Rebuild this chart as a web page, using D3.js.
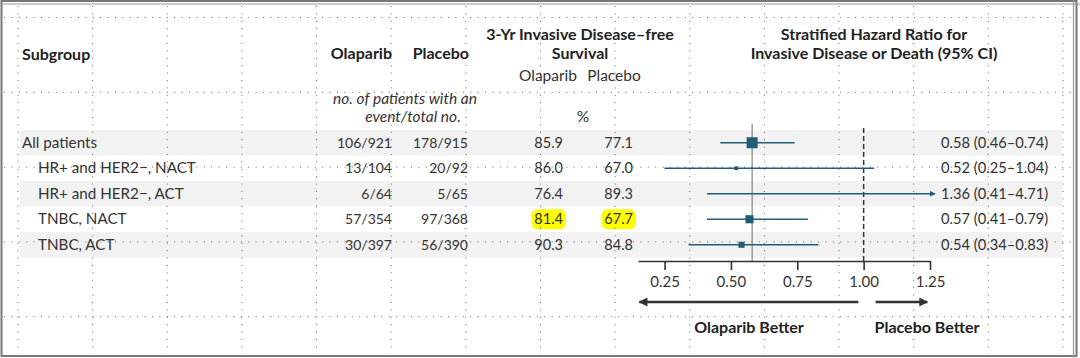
<!DOCTYPE html>
<html>
<head>
<meta charset="utf-8">
<script src="https://cdn.jsdelivr.net/npm/d3@7"></script>
<style>
  html, body { margin: 0; padding: 0; background: #fff; }
  svg { display: block; font-family: Lato, "Noto Sans", sans-serif; }
</style>
</head>
<body>
<script>
const W = 1080, H = 358;

// data
const subgroups = ['All patients', 'HR+ and HER2\u2212, NACT', 'HR+ and HER2\u2212, ACT', 'TNBC, NACT', 'TNBC, ACT'];
const indent = [0, 1, 1, 1, 1];
const olaparibEvents = ['106/921', '13/104', '6/64', '57/354', '30/397'];
const placeboEvents = ['178/915', '20/92', '5/65', '97/368', '56/390'];
const olaparibDfs = [85.9, 86.0, 76.4, 81.4, 90.3];
const placeboDfs = [77.1, 67.0, 89.3, 67.7, 84.8];
const hr = [0.58, 0.52, 1.36, 0.57, 0.54];
const hrLow = [0.46, 0.25, 0.41, 0.41, 0.34];
const hrHigh = [0.74, 1.04, 4.71, 0.79, 0.83];
const highlighted = [false, false, false, true, false];
const xTicks = [0.25, 0.50, 0.75, 1.00, 1.25];

const TEAL = '#1f5e74';
const TEXT = '#333';

const svg = d3.select('body').append('svg')
    .attr('width', W)
    .attr('height', H);

svg.append('defs').append('marker')
    .attr('id', 'head')
    .attr('viewBox', '0 0 10 10')
    .attr('refX', 9).attr('refY', 5)
    .attr('markerWidth', 6).attr('markerHeight', 6)
    .attr('markerUnits', 'userSpaceOnUse')
    .attr('orient', 'auto')
  .append('path')
    .attr('d', 'M0,0L10,5L0,10Z')
    .attr('fill', TEAL);

const big = svg.select('defs').append('marker')
    .attr('id', 'bighead')
    .attr('viewBox', '0 0 10 10')
    .attr('refX', 9).attr('refY', 5)
    .attr('markerWidth', 13).attr('markerHeight', 9)
    .attr('markerUnits', 'userSpaceOnUse')
    .attr('orient', 'auto-start-reverse');
big.append('path').attr('d', 'M0,0L10,5L0,10Z').attr('fill', '#333');

const rowIdx = d3.range(subgroups.length);
const y = d3.scaleBand().domain(rowIdx).range([130, 257.5]);
const yc = i => y(i) + y.bandwidth() / 2;

const x = d3.scaleLinear().domain([0.15, 1.25]).range([638, 930]);
const totalEvents = rowIdx.map(i => +olaparibEvents[i].split('/')[0] + +placeboEvents[i].split('/')[0]);
const box = d3.scaleSqrt().domain([0, d3.max(totalEvents)]).range([0, 11]);

// row shading
svg.append('g').selectAll('rect')
  .data(rowIdx.filter(i => i % 2 === 0))
  .join('rect')
    .attr('x', 20).attr('width', 1042)
    .attr('y', i => y(i)).attr('height', y.bandwidth())
    .attr('fill', '#f2f2f2');

// headers
const head = svg.append('g').attr('fill', '#222').attr('font-size', 16).attr('font-weight', 700);
head.append('text').attr('x', 22).attr('y', 60).text('Subgroup');
head.append('text').attr('x', 392).attr('y', 59).attr('text-anchor', 'end').text('Olaparib');
head.append('text').attr('x', 469).attr('y', 59).attr('text-anchor', 'end').text('Placebo');
head.append('text').attr('x', 580).attr('y', 40).attr('text-anchor', 'middle').text('3-Yr Invasive Disease\u2013free');
head.append('text').attr('x', 580).attr('y', 59).attr('text-anchor', 'middle').text('Survival');
head.append('text').attr('x', 874).attr('y', 40).attr('text-anchor', 'middle').text('Stratified Hazard Ratio for');
head.append('text').attr('x', 874).attr('y', 59).attr('text-anchor', 'middle').text('Invasive Disease or Death (95% CI)');
head.append('text').attr('x', 749).attr('y', 333).attr('text-anchor', 'middle').text('Olaparib Better');
head.append('text').attr('x', 927).attr('y', 333).attr('text-anchor', 'middle').text('Placebo Better');

const sub = svg.append('g').attr('fill', TEXT).attr('font-size', 15.5);
sub.append('text').attr('x', 548).attr('y', 81).attr('text-anchor', 'middle').text('Olaparib');
sub.append('text').attr('x', 614).attr('y', 81).attr('text-anchor', 'middle').text('Placebo');
sub.append('text').attr('x', 583).attr('y', 122).attr('text-anchor', 'middle').text('%');
sub.append('text').attr('x', 405).attr('y', 104).attr('text-anchor', 'middle').attr('font-style', 'italic').text('no. of patients with an');
sub.append('text').attr('x', 413).attr('y', 122).attr('text-anchor', 'middle').attr('font-style', 'italic').text('event/total no.');

// table rows
const rows = svg.append('g').attr('fill', TEXT).attr('font-size', 14)
  .selectAll('g').data(rowIdx).join('g')
    .attr('transform', i => `translate(0,${yc(i) + 5})`);

rows.append('text').attr('x', i => indent[i] ? 38 : 22).attr('font-size', 15.2).text(i => subgroups[i]);
rows.append('text').attr('x', 392).attr('text-anchor', 'end').text(i => olaparibEvents[i]);
rows.append('text').attr('x', 468).attr('text-anchor', 'end').text(i => placeboEvents[i]);

const surv = [[olaparibDfs, 563], [placeboDfs, 633]];
surv.forEach(([vals, xr]) => {
  rows.each(function (i) {
    const g = d3.select(this);
    const t = g.append('text').attr('x', xr).attr('text-anchor', 'end').attr('font-size', 14.5).text(vals[i].toFixed(1));
    if (highlighted[i]) {
      const b = t.node().getBBox();
      g.insert('rect', 'text')
        .attr('x', b.x - 3).attr('y', -15)
        .attr('width', b.width + 6).attr('height', 20)
        .attr('rx', 6)
        .attr('fill', '#ffff00');
    }
  });
});

rows.append('text').attr('x', 941).attr('font-size', 14.7)
  .text(i => `${hr[i].toFixed(2)} (${hrLow[i].toFixed(2)}\u2013${hrHigh[i].toFixed(2)})`);

// reference lines
svg.append('line')
    .attr('x1', x(hr[0])).attr('x2', x(hr[0]))
    .attr('y1', 124).attr('y2', 261)
    .attr('stroke', '#8a8a8a').attr('stroke-width', 1.3);
svg.append('line')
    .attr('x1', x(1)).attr('x2', x(1))
    .attr('y1', 128).attr('y2', 261)
    .attr('stroke', '#333').attr('stroke-width', 1.5)
    .attr('stroke-dasharray', '5,3');

// confidence intervals and boxes
const forest = svg.append('g');
rowIdx.forEach(i => {
  const over = hrHigh[i] > x.domain()[1];
  forest.append('line')
      .attr('x1', x(hrLow[i]))
      .attr('x2', over ? x.range()[1] + 5 : x(hrHigh[i]))
      .attr('y1', yc(i)).attr('y2', yc(i))
      .attr('stroke', TEAL).attr('stroke-width', 1.6)
      .attr('marker-end', over ? 'url(#head)' : null);
  if (hr[i] <= x.domain()[1]) {
    const s = box(totalEvents[i]);
    forest.append('rect')
        .attr('x', x(hr[i]) - s / 2).attr('y', yc(i) - s / 2)
        .attr('width', s).attr('height', s)
        .attr('fill', TEAL);
  }
});

// axis
const axis = svg.append('g')
    .attr('transform', 'translate(0,261)')
    .call(d3.axisBottom(x).tickValues(xTicks).tickFormat(d3.format('.2f')).tickSize(9).tickSizeOuter(0).tickPadding(6));
axis.select('.domain').attr('stroke', '#333').attr('stroke-width', 1.6);
axis.selectAll('.tick line').attr('stroke', '#333').attr('stroke-width', 1.6);
axis.selectAll('.tick text').attr('fill', TEXT).attr('font-size', 15).attr('font-family', 'Lato, "Noto Sans", sans-serif');

// better arrows
svg.append('line')
    .attr('x1', x(0.98)).attr('x2', x(0.155))
    .attr('y1', 302).attr('y2', 302)
    .attr('stroke', '#333').attr('stroke-width', 2.5)
    .attr('marker-end', 'url(#bighead)');
svg.append('line')
    .attr('x1', x(1.045)).attr('x2', x(1.24))
    .attr('y1', 302).attr('y2', 302)
    .attr('stroke', '#333').attr('stroke-width', 2.5)
    .attr('marker-end', 'url(#bighead)');

// editor grid overlay
const gx = d3.range(15).map(k => 18 + k * 74.64);
const gy = d3.range(5).map(k => 17 + k * 74.8);
const grid = svg.append('g')
    .attr('stroke', '#444').attr('stroke-width', 1)
    .attr('stroke-dasharray', '1,6.4').attr('opacity', 0.8);
grid.selectAll('.v').data(gx).join('line').attr('class', 'v')
    .attr('x1', d => d).attr('x2', d => d)
    .attr('y1', 6).attr('y2', 354);
grid.selectAll('.h').data(gy).join('line').attr('class', 'h')
    .attr('x1', 4).attr('x2', 1072)
    .attr('y1', d => d + 0.5).attr('y2', d => d + 0.5);

// window border
const border = svg.append('g').attr('fill', 'none').attr('stroke', '#777');
border.append('rect').attr('x', 1.5).attr('y', 1).attr('width', 1075).attr('height', 355).attr('stroke-width', 2);
border.append('line').attr('x1', 0).attr('x2', W).attr('y1', 4).attr('y2', 4).attr('stroke-width', 1.2).attr('stroke', '#999');
border.append('line').attr('x1', 1073.5).attr('x2', 1073.5).attr('y1', 0).attr('y2', H).attr('stroke-width', 1.2).attr('stroke', '#999');
</script>
</body>
</html>
